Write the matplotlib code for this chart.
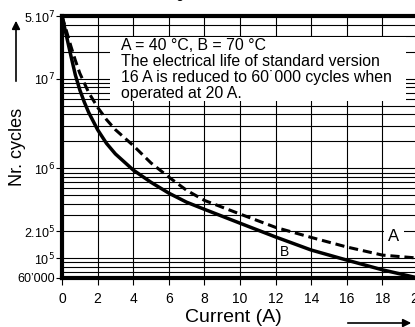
import numpy as np
import matplotlib
matplotlib.use("Agg")
import matplotlib.pyplot as plt
from matplotlib.patches import Rectangle, FancyArrowPatch

plt.rcParams['font.family'] = ['Liberation Sans', 'DejaVu Sans']

# Kurve B (70 °C), durchgezogen
current_b = [0, 0.25, 0.5, 0.75, 1.0, 1.25, 1.5, 2, 2.5, 3, 4, 5, 6, 7, 8,
             10, 12, 14, 16, 18, 20]
cycles_b = [5e7, 3e7, 1.8e7, 1.1e7, 7.5e6, 5.5e6, 4.2e6, 2.7e6, 1.9e6, 1.45e6,
            9.6e5, 7e5, 5.3e5, 4.2e5, 3.5e5, 2.45e5, 1.72e5, 1.23e5, 9.5e4,
            7.4e4, 6e4]

# Kurve A (40 °C), gestrichelt
current_a = [0, 0.25, 0.5, 0.75, 1.0, 1.5, 2, 2.5, 3, 4, 5, 6, 7, 8, 10, 12,
             14, 16, 18, 20]
cycles_a = [5e7, 3.4e7, 2.3e7, 1.6e7, 1.15e7, 7e6, 4.8e6, 3.5e6, 2.7e6,
            1.8e6, 1.15e6, 8e5, 5.7e5, 4.4e5, 3.1e5, 2.2e5, 1.7e5, 1.33e5,
            1.08e5, 1e5]

x_ticks = list(range(0, 21, 2))
y_ticks = [6e4, 1e5, 2e5, 1e6, 1e7, 5e7]
y_labels = ["60’000", "10$^5$", "2.10$^5$", "10$^6$", "10$^7$", "5.10$^7$"]

note = ("A = 40 °C, B = 70 °C\n"
        "The electrical life of standard version\n"
        "16 A is reduced to 60˙000 cycles when\n"
        "operated at 20 A.")

W, H = 415, 327
fig = plt.figure(figsize=(W / 100, H / 100), dpi=100)
ax = fig.add_axes([62 / W, 1 - 278 / H, (418 - 62) / W, (278 - 16) / H])
ax.set_yscale('log')
ax.set_xlim(0, 20)
ax.set_ylim(6e4, 5e7)

# Raster
grid_y = [m * 10 ** e for e in range(4, 8) for m in range(1, 10)]
for gy in grid_y:
    if 6e4 < gy < 5e7:
        ax.axhline(gy, color='black', lw=0.8, zorder=1)
for gx in x_ticks[1:]:
    ax.axvline(gx, color='black', lw=0.8, zorder=1)

# Textfeld
ax.add_patch(Rectangle((2.7, 5.6e6), 16.6, 2.92e7 - 5.6e6, facecolor='white',
                       edgecolor='none', zorder=2))
ax.text(3.3, 2.85e7, note, fontsize=11.4, va='top', ha='left',
        linespacing=1.08, zorder=3)

ax.plot(current_b, cycles_b, color='black', lw=2.5, zorder=4, clip_on=False,
        solid_capstyle='butt')
ax.plot(current_a, cycles_a, color='black', lw=2.2, ls=(0, (3.0, 1.6)),
        zorder=4)

ax.text(12.5, 1.17e5, "B", fontsize=10, ha='center', va='center', zorder=5)
ax.text(18.65, 1.72e5, "A", fontsize=12, ha='center', va='center', zorder=5,
        bbox=dict(facecolor='white', edgecolor='none', pad=3.5))

for side in ['left', 'bottom', 'top']:
    ax.spines[side].set_linewidth(3)
ax.spines['right'].set_visible(False)

ax.set_xticks(x_ticks)
ax.set_xticklabels([str(v) for v in x_ticks], fontsize=10)
ax.set_yticks(y_ticks)
ax.set_yticklabels(y_labels, fontsize=9)
ax.yaxis.set_minor_locator(matplotlib.ticker.NullLocator())
ax.tick_params(axis='y', direction='out', length=4, width=0.8, pad=1)
ax.tick_params(axis='x', direction='out', length=5, width=0.8, pad=5)

# Titel (oben abgeschnitten)
fig.text(142 / W, 1 + 2 / H, "Life against current, ohmic load", fontsize=10,
         va='baseline', ha='left')

fig.text(18 / W, 1 - 147 / H, "Nr. cycles", rotation=90, fontsize=13,
         ha='center', va='center')
fig.text(233 / W, 1 - 318 / H, "Current (A)", fontsize=14,
         ha='center', va='center')

fig.add_artist(FancyArrowPatch(
    (16 / W, 1 - 84 / H), (16 / W, 1 - 18 / H), transform=fig.transFigure,
    arrowstyle='-|>', mutation_scale=12, color='black', lw=1.2))
fig.add_artist(FancyArrowPatch(
    (345 / W, 1 - 323 / H), (414 / W, 1 - 323 / H), transform=fig.transFigure,
    arrowstyle='-|>', mutation_scale=12, color='black', lw=1.2))

fig.savefig("out.png", dpi=100)
